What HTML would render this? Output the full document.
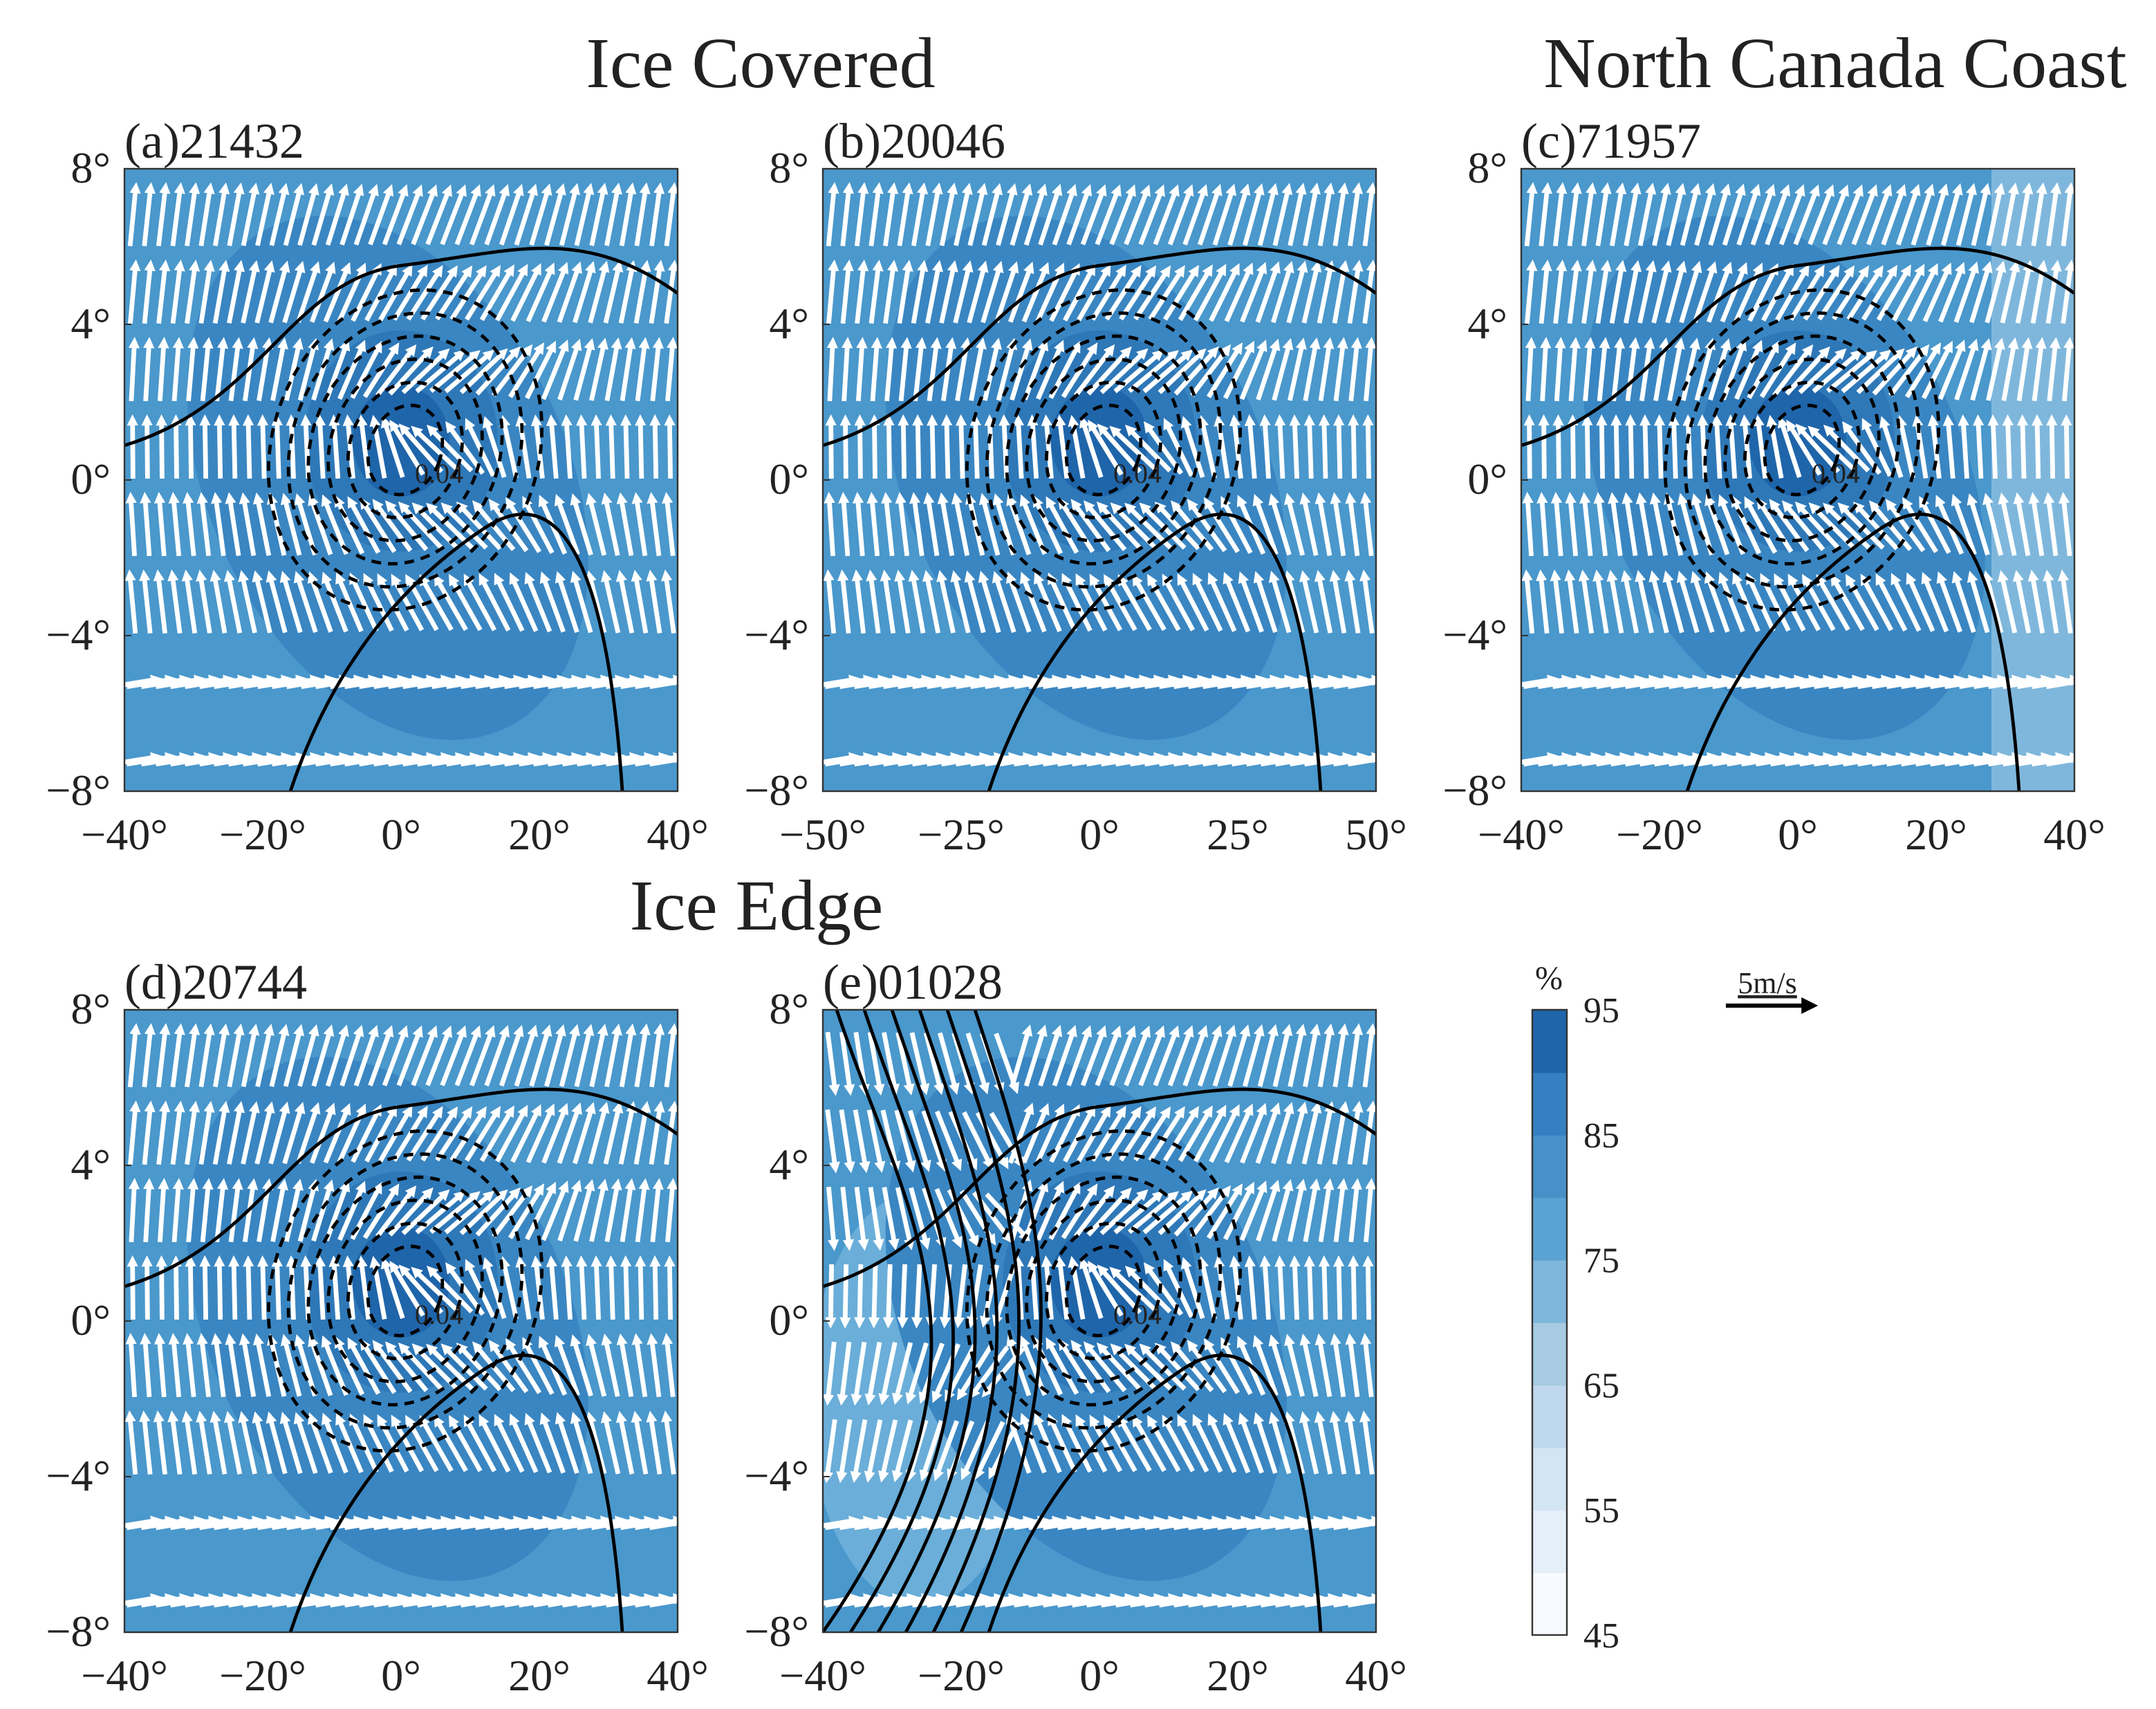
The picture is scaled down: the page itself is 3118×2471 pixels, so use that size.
<!DOCTYPE html>
<html><head><meta charset="utf-8"><style>
html,body{margin:0;padding:0;background:#fff}
svg{display:block}
text{font-family:"Liberation Serif",serif;fill:#222}
</style></head><body>
<svg id="fig" width="3118" height="2471" viewBox="0 0 1559 1235.5" xmlns="http://www.w3.org/2000/svg">
<defs>
<marker id="ah" viewBox="0 0 10 10" refX="2" refY="5" markerWidth="2.4" markerHeight="2.4" orient="auto"><path d="M0,0 L10,5 L0,10 z" fill="#fff"/></marker>
<marker id="ahk" viewBox="0 0 10 10" refX="2" refY="5" markerWidth="4" markerHeight="4" orient="auto"><path d="M0,0 L10,5 L0,10 z" fill="#000"/></marker>
</defs>
<text x="550" y="63" font-size="52" text-anchor="middle">Ice Covered</text>
<text x="1327" y="63" font-size="52" text-anchor="middle">North Canada Coast</text>
<text x="547" y="672" font-size="52" text-anchor="middle">Ice Edge</text>
<g id="panels"></g>
<g id="cbar"></g>
<g>
<text x="1278" y="718" font-size="22" text-anchor="middle" text-decoration="underline">5m/s</text>
<line x1="1248" y1="727" x2="1305" y2="727" stroke="#000" stroke-width="3" marker-end="url(#ahk)"/>
</g>
</svg>
<script>
const yTicks=[8,4,0,-4,-8];
const panelNames=['(a)21432','(b)20046','(c)71957','(d)20744','(e)01028'];
const panelXTicks=[[-40,-20,0,20,40],[-50,-25,0,25,50],[-40,-20,0,20,40],[-40,-20,0,20,40],[-40,-20,0,20,40]];
const panelX=[90,595,1100,90,595];
const panelY=[122,122,122,730,730];
const cbLevels=[45,50,55,60,65,70,75,80,85,90,95];
const cbColors=['#f7fbff','#e5eff9','#d3e4f3','#c0d8ed','#a6cbe3','#7fb7dc','#5aa2d3','#4791c8','#3580c0','#1f65aa'];
const cbTickLabels=[45,55,65,75,85,95];
const NS='http://www.w3.org/2000/svg';
function mk(t,a,p){const e=document.createElementNS(NS,t);for(const k in a)e.setAttribute(k,a[k]);p.appendChild(e);return e;}
const W=400,H=450;
const root=document.getElementById('panels');
panelNames.forEach((nm,i)=>{
 const g=mk('g',{},root);
 
 
 const x0=panelX[i],y0=panelY[i];
 const xt=panelXTicks[i];
 const sx=v=>x0+(v-xt[0])/(xt[4]-xt[0])*W;
 const sy=v=>y0+(8-v)/16*H;
 const cid='clip'+i;
 const cp=mk('clipPath',{id:cid},g);mk('rect',{x:x0,y:y0,width:W,height:H},cp);
 const body=mk('g',{'clip-path':'url(#'+cid+')'},g);
 const bg=mk('rect',{x:x0,y:y0,width:W,height:H,fill:'#4a98cc'},body);
 
 
 const cx=x0+W*0.5,cy=sy(1);
 if(i===2){mk('rect',{x:x0+W*0.85,y:y0,width:W*0.15,height:H,fill:'#7fb7dc'},body);}
 if(i===4){mk('ellipse',{cx:x0+70,cy:sy(-2),rx:80,ry:150,fill:'#6aaed9'},body);}
 mk('ellipse',{cx:cx-20,cy:cy+20,rx:130,ry:200,fill:'#3a86c2',transform:`rotate(-25 ${cx} ${cy})`},body);
 mk('ellipse',{cx:cx,cy:cy,rx:70,ry:80,fill:'#2e78b8'},body);
 mk('ellipse',{cx:cx,cy:cy,rx:35,ry:40,fill:'#1f65aa'},body);
 // arrows
 const ag=mk('g',{stroke:'#fff','stroke-width':3.4,fill:'none'},body);
 
 
 for(let r=0;r<8;r++){
  const ay=y0+36+r*56;
  for(let c=0;c<38;c++){
   const ax=x0+6+c*10.5;
   const dx=ax-cx,dy=ay-cy,d=Math.hypot(dx,dy)+20;
   const kk=2.2*Math.exp(-d/110);
   let ux=-dy/d*kk, uy=dx/d*kk;
   let vy=(i===4&&dx<-60)?1:-1;
   uy+=vy;
   if(ay>y0+330){ux=1.5;uy=-0.25;}
   const L=Math.hypot(ux,uy)||1;
   const len=(ay>y0+330)?30:40;
   mk('line',{x1:ax-ux/L*len/2,y1:ay-uy/L*len/2,x2:ax+ux/L*len/2,y2:ay+uy/L*len/2,'marker-end':'url(#ah)'},ag);
  }
 }
 // contours
 const cg=mk('g',{stroke:'#000','stroke-width':2.4,fill:'none'},body);
 
 
 for(let k=1;k<=6;k++){
  mk('ellipse',{cx:cx+5,cy:cy+5,rx:12+k*14,ry:16+k*17,'stroke-dasharray':'7 5',transform:`rotate(20 ${cx} ${cy})`},cg);
 }
 mk('path',{d:`M${x0} ${y0+200} C${x0+100} ${y0+170},${x0+120} ${y0+80},${x0+200} ${y0+70} S${x0+330} ${y0+40},${x0+400} ${y0+90}`},cg);
 mk('path',{d:`M${x0+120} ${y0+450} C${x0+150} ${y0+360},${x0+200} ${y0+300},${x0+260} ${y0+260} S${x0+350} ${y0+300},${x0+360} ${y0+450}`},cg);
 if(i===4){for(let k=0;k<6;k++)mk('path',{d:`M${x0+10+k*20} ${y0} C${x0+60+k*20} ${y0+150},${x0+140+k*10} ${y0+250},${x0+k*20} ${y0+450}`},cg);}
 mk('text',{x:cx+10,y:cy+30,'font-size':20,stroke:'none',fill:'#000'},body).textContent='0.04';
 mk('rect',{x:x0,y:y0,width:W,height:H,fill:'none',stroke:'#333','stroke-width':1.2},g);
 const lbl=mk('text',{x:x0,y:y0-8,'font-size':36},g);
 lbl.textContent=nm;
 
 
 yTicks.forEach(v=>{
  const t=mk('text',{x:x0-10,y:sy(v)+10,'font-size':32,'text-anchor':'end'},g);
  t.textContent=(v<0?'\u2212':'')+Math.abs(v)+'°';
  
  
  mk('line',{x1:x0,y1:sy(v),x2:x0+5,y2:sy(v),stroke:'#333'},g);
 });
 xt.forEach(v=>{
  const t=mk('text',{x:sx(v),y:y0+H+42,'font-size':32,'text-anchor':'middle'},g);
  t.textContent=(v<0?'\u2212':'')+Math.abs(v)+'°';
  
  
 });
});
// colorbar
const cb=document.getElementById('cbar');
const cbx=1108,cby=730,cbw=25,cbh=452;
const cyv=v=>cby+cbh-(v-45)/50*cbh;
for(let k=0;k<cbColors.length;k++){
 const r=mk('rect',{x:cbx,y:cyv(cbLevels[k+1]),width:cbw,height:cyv(cbLevels[k])-cyv(cbLevels[k+1])+0.5,fill:cbColors[k]},cb);
 
 
}
mk('rect',{x:cbx,y:cby,width:cbw,height:cbh,fill:'none',stroke:'#333','stroke-width':1.2},cb);
cbTickLabels.forEach(v=>{
 const t=mk('text',{x:cbx+cbw+12,y:cyv(v)+9,'font-size':26},cb);
 t.textContent=v;
 
 
});
const pc=mk('text',{x:cbx+12,y:cby-15,'font-size':24,'text-anchor':'middle'},cb);pc.textContent='%';
</script>
</body></html>
